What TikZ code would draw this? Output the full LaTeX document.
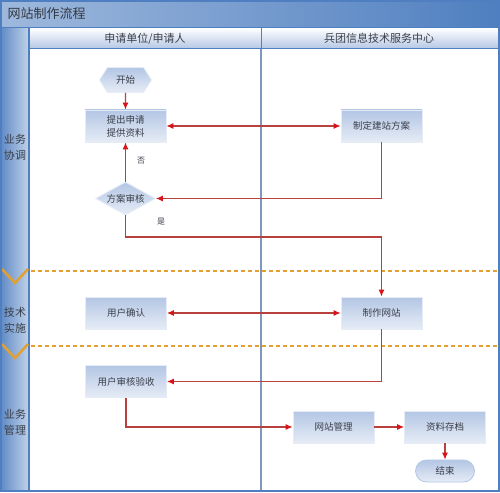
\documentclass[tikz,border=0pt]{standalone}
\usepackage{fontspec}
\newfontfamily\cjk{Noto Sans CJK SC}
\usetikzlibrary{shapes.geometric,shapes.symbols,arrows.meta}
\definecolor{frameBlue}{HTML}{4F7FC0}
\definecolor{lineRed}{HTML}{B8403D}
\definecolor{tipRed}{HTML}{D8141B}
\definecolor{boxTop}{HTML}{B3C6E4}
\definecolor{boxBot}{HTML}{E6ECF6}
\definecolor{textGray}{HTML}{3A3F4A}
\definecolor{dashOrange}{HTML}{E2A033}
\definecolor{divider}{HTML}{7C98BE}
\tikzset{
  nodefont/.style={font=\cjk\fontsize{9.5}{11}\selectfont, text=textGray},
  stepbox/.style={nodefont, rectangle, minimum width=81pt, minimum height=32pt, inner sep=0pt,
    top color=boxTop, bottom color=boxBot, draw=boxBot, line width=0.8pt},
  hexbox/.style={nodefont, signal, signal to=east and west, signal pointer angle=115,
    minimum width=52pt, minimum height=25pt, inner sep=0pt,
    top color=boxTop, bottom color=boxBot, draw=boxBot, line width=0.8pt},
  decide/.style={nodefont, diamond, aspect=1.8, minimum width=60pt, minimum height=33pt, inner sep=0pt,
    top color=boxTop, bottom color=boxBot, draw=boxBot, line width=0.8pt},
  endbox/.style={nodefont, rectangle, rounded corners=11pt, minimum width=59pt, minimum height=22pt, inner sep=0pt,
    top color=boxTop, bottom color=boxBot, draw=boxTop, line width=0.8pt},
  flow/.style={draw=lineRed, line width=1.1pt, -{Latex[length=7pt,width=6pt,color=tipRed]}},
  flowboth/.style={draw=lineRed, line width=1.1pt, {Latex[length=7pt,width=6pt,color=tipRed]}-{Latex[length=7pt,width=6pt,color=tipRed]}},
  lanelabel/.style={font=\cjk\fontsize{11}{16}\selectfont, text=textGray, align=center},
  headlabel/.style={font=\cjk\fontsize{11}{13}\selectfont, text=textGray},
  smalllabel/.style={font=\cjk\fontsize{8}{9}\selectfont, text=textGray},
  chev/.style={draw=dashOrange, line width=2.5pt},
  sep/.style={draw=dashOrange, line width=1.6pt, dash pattern=on 4pt off 3pt},
}
\begin{document}
\begin{tikzpicture}[x=1pt,y=-1pt]
\useasboundingbox (0,0) rectangle (500,492);
% background
\fill[white] (0,0) rectangle (500,492);
% title bar
\shade[left color=frameBlue!55!white, right color=frameBlue] (0,0) rectangle (500,28);
\node[anchor=west, font=\cjk\fontsize{13}{15}\selectfont, text=textGray!90!black] (title) at (4,14) {网站制作流程};
% header row
\shade[top color=white, bottom color=boxTop] (29,28) rectangle (498,49);
\draw[frameBlue, line width=1pt] (29,28) rectangle (261,49);
\draw[frameBlue, line width=1pt] (261,28) rectangle (498,49);
\node[headlabel] (h1) at (145,38.5) {申请单位/申请人};
\node[headlabel] (h2) at (379,38.5) {兵团信息技术服务中心};
% left lane column
\shade[left color=frameBlue!90!white, right color=frameBlue!35!white] (1,28) rectangle (29,490);
\draw[frameBlue, line width=1.2pt] (29,28) -- (29,490);
% chevrons
\draw[chev] (2,269) -- (15,283) -- (28,269);
\draw[chev] (2,344) -- (15,358) -- (28,344);
% lane labels
\node[lanelabel] (l1) at (15,147) {业务\\协调};
\node[lanelabel] (l2) at (15,320) {技术\\实施};
\node[lanelabel] (l3) at (15,422) {业务\\管理};
% dashed separators
\draw[sep] (31,271) -- (497,271);
\draw[sep] (31,346) -- (497,346);
% column divider
\draw[divider, line width=1.2pt] (261,49) -- (261,490);
% outer frame
\draw[frameBlue, line width=2pt] (1,1) rectangle (498.5,490.5);
\draw[frameBlue, line width=1pt] (1,28) -- (498.5,28);

% nodes
\node[hexbox] (start) at (125.5,80) {开始};
\node[stepbox, align=center, font=\cjk\fontsize{9.5}{13}\selectfont] (apply) at (125.5,126) {提出申请\\提供资料};
\node[decide] (review) at (125.5,198.5) {方案审核};
\node[stepbox] (plan) at (381.5,126) {制定建站方案};
\node[stepbox] (confirm) at (126,313) {用户确认};
\node[stepbox] (make) at (381.5,313) {制作网站};
\node[stepbox] (accept) at (126,381.5) {用户审核验收};
\node[stepbox] (manage) at (333.5,427) {网站管理};
\node[stepbox] (archive) at (445,427) {资料存档};
\node[endbox] (finish) at (445,471) {结束};
\node[smalllabel] (no) at (141,161) {否};
\node[smalllabel] (yes) at (161,222) {是};

\coordinate (c1) at (381.5,237);

% connectors
\draw[flow] (start) -- (apply);
\draw[flowboth] (apply) -- (plan);
\draw[flow] (plan.south) |- (review.east);
\draw[flow] (review.north) -- (apply.south);
\draw[flow] (review.south) |- (c1) -- (make.north);
\draw[flowboth] (confirm) -- (make);
\draw[flow] (make.south) |- (accept.east);
\draw[flow] (accept.south) |- (manage.west);
\draw[flow] (manage) -- (archive);
\draw[flow] (archive.south) -- (finish.north);
\end{tikzpicture}
\end{document}
